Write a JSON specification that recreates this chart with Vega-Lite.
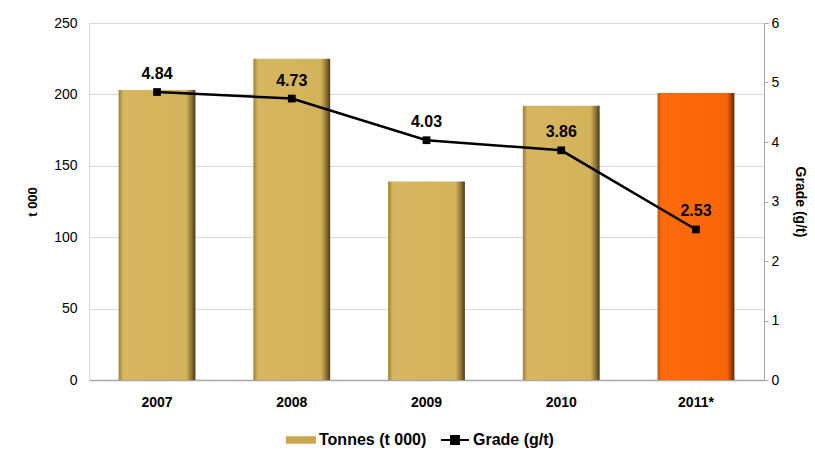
{
  "$schema": "https://vega.github.io/schema/vega-lite/v6.json",
  "width": 675,
  "height": 357,
  "autosize": {"type": "none"},
  "padding": {"left": 89, "top": 23, "right": 51, "bottom": 73},
  "background": "white",
  "config": {
    "font": "Liberation Sans",
    "view": {"stroke": null},
    "axis": {"labelFont": "Liberation Sans", "titleFont": "Liberation Sans"}
  },
  "data": {
    "values": [
      {"year": "2007", "tonnes": 203, "grade": 4.84, "series": "Grade (g/t)"},
      {"year": "2008", "tonnes": 225, "grade": 4.73, "series": "Grade (g/t)"},
      {"year": "2009", "tonnes": 139, "grade": 4.03, "series": "Grade (g/t)"},
      {"year": "2010", "tonnes": 192, "grade": 3.86, "series": "Grade (g/t)"},
      {"year": "2011*", "tonnes": 201, "grade": 2.53, "series": "Grade (g/t)"}
    ]
  },
  "encoding": {
    "x": {
      "field": "year",
      "type": "nominal",
      "sort": null,
      "scale": {"paddingInner": 0.43, "paddingOuter": 0.22},
      "axis": {
        "title": null,
        "labelAngle": 0,
        "labelFontWeight": "bold",
        "labelFontSize": 14,
        "labelColor": "#000000",
        "labelPadding": 15,
        "ticks": false,
        "domainColor": "#a6a6a6",
        "domainWidth": 1.5
      }
    }
  },
  "layer": [
    {
      "mark": {"type": "bar", "stroke": null},
      "encoding": {
        "y": {
          "field": "tonnes",
          "type": "quantitative",
          "scale": {"domain": [0, 250]},
          "axis": {
            "title": "t 000",
            "titleFontWeight": "bold",
            "titleFontSize": 13,
            "titleColor": "#000000",
            "titlePadding": 14,
            "values": [0, 50, 100, 150, 200, 250],
            "labelFontSize": 14,
            "labelColor": "#000000",
            "labelPadding": 12,
            "ticks": false,
            "domain": true,
            "domainColor": "#d9d9d9",
            "grid": true,
            "gridColor": "#d9d9d9",
            "gridWidth": 1
          }
        },
        "color": {
          "condition": {
            "test": "datum.year === '2011*'",
            "value": {
              "gradient": "linear",
              "x1": 0, "y1": 0, "x2": 1, "y2": 0,
              "stops": [
                {"offset": 0, "color": "#c85008"},
                {"offset": 0.05, "color": "#fb6a0c"},
                {"offset": 0.9, "color": "#f9660a"},
                {"offset": 0.96, "color": "#a84206"},
                {"offset": 1, "color": "#5a2402"}
              ]
            }
          },
          "value": {
            "gradient": "linear",
            "x1": 0, "y1": 0, "x2": 1, "y2": 0,
            "stops": [
              {"offset": 0, "color": "#9c8038"},
              {"offset": 0.06, "color": "#d6b660"},
              {"offset": 0.88, "color": "#d2b25a"},
              {"offset": 0.95, "color": "#8c7236"},
              {"offset": 1, "color": "#4a3814"}
            ]
          }
        }
      }
    },
    {
      "mark": {"type": "line", "strokeWidth": 2.5},
      "encoding": {
        "y": {
          "field": "grade",
          "type": "quantitative",
          "scale": {"domain": [0, 6]},
          "axis": {
            "orient": "right",
            "title": "Grade (g/t)",
            "titleFontWeight": "bold",
            "titleFontSize": 14,
            "titleColor": "#000000",
            "titlePadding": 14,
            "values": [0, 1, 2, 3, 4, 5, 6],
            "labelFontSize": 14,
            "labelColor": "#000000",
            "labelPadding": 3,
            "tickSize": 4,
            "tickColor": "#a6a6a6",
            "domainColor": "#a6a6a6",
            "grid": false
          }
        },
        "color": {
          "field": "series",
          "type": "nominal",
          "scale": {"domain": ["Tonnes (t 000)", "Grade (g/t)"], "range": ["#c9a94f", "#000000"]},
          "legend": {
            "title": null,
            "orient": "none",
            "legendX": 197,
            "legendY": 402,
            "direction": "horizontal",
            "labelFontSize": 16,
            "labelFontWeight": "bold",
            "labelColor": "#000000",
            "labelOffset": 3,
            "columnPadding": 10,
            "symbolSize": 784,
            "encode": {
              "symbols": {
                "update": {
                  "shape": {"signal": "datum.value === 'Grade (g/t)' ? 'M-1,0H1M-0.28,-0.28H0.28V0.28H-0.28Z' : 'M-1,-0.2H1V0.2H-1Z'"},
                  "fill": {"signal": "datum.value === 'Grade (g/t)' ? '#000000' : '#c9a94f'"},
                  "stroke": {"signal": "datum.value === 'Grade (g/t)' ? '#000000' : '#8c7236'"},
                  "strokeWidth": {"value": 2},
                  "opacity": {"value": 1}
                }
              }
            }
          }
        }
      }
    },
    {
      "mark": {"type": "point", "shape": "square", "filled": true, "size": 60, "color": "#000000", "opacity": 1},
      "encoding": {
        "y": {"field": "grade", "type": "quantitative", "scale": {"domain": [0, 6]}, "axis": null}
      }
    },
    {
      "mark": {"type": "text", "dy": -18, "fontSize": 16, "fontWeight": "bold", "color": "#000000"},
      "encoding": {
        "y": {"field": "grade", "type": "quantitative", "scale": {"domain": [0, 6]}, "axis": null},
        "text": {"field": "grade", "type": "quantitative", "format": ".2f"}
      }
    }
  ],
  "resolve": {"scale": {"y": "independent"}}
}
